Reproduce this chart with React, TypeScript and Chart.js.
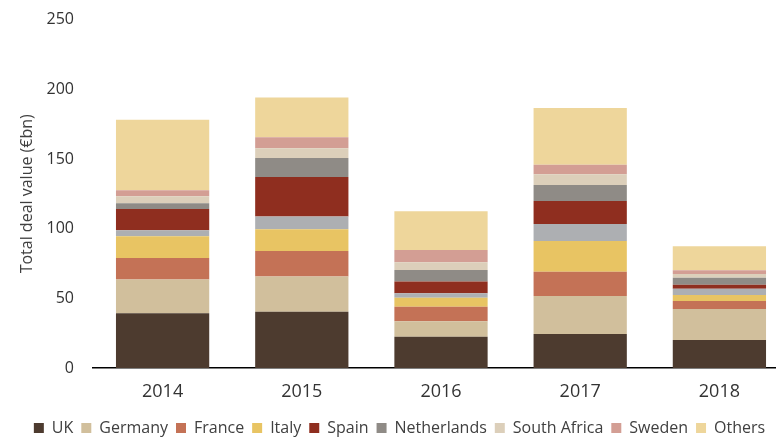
import React, { useEffect, useRef } from "react";
import { Chart, registerables } from "chart.js";

Chart.register(...registerables);

const years = ["2014", "2015", "2016", "2017", "2018"];
const uk = [39.2, 40.3, 22.4, 24.4, 20.1];
const germany = [24.3, 25.4, 11.1, 27.2, 22.2];
const france = [15.5, 18.3, 10.4, 17.4, 5.7];
const italy = [15.6, 15.6, 6.5, 22.2, 4.3];
const unlabelled = [4.3, 9.1, 3.3, 12.2, 4.5];
const spain = [15.2, 28.3, 8.4, 16.4, 2.9];
const netherlands = [4.1, 13.6, 8.3, 11.5, 5.0];
const southAfrica = [5.0, 7.0, 5.5, 7.7, 2.8];
const sweden = [4.3, 7.9, 8.8, 6.9, 2.7];
const others = [50.7, 28.6, 27.8, 40.6, 17.2];
const yTicks = [0, 50, 100, 150, 200, 250];

const series = [
  { label: "UK", data: uk, color: "#4d3b2f" },
  { label: "Germany", data: germany, color: "#d1bf9c" },
  { label: "France", data: france, color: "#c47256" },
  { label: "Italy", data: italy, color: "#e8c463" },
  { label: "", data: unlabelled, color: "#adafb2" },
  { label: "Spain", data: spain, color: "#8f2e1f" },
  { label: "Netherlands", data: netherlands, color: "#8f8b86" },
  { label: "South Africa", data: southAfrica, color: "#dccfba" },
  { label: "Sweden", data: sweden, color: "#d39e94" },
  { label: "Others", data: others, color: "#eed69b" },
];

export default function App() {
  const ref = useRef<HTMLCanvasElement | null>(null);
  useEffect(() => {
    if (!ref.current) return;
    const font = "'Open Sans', sans-serif";
    const chart = new Chart(ref.current, {
      type: "bar",
      data: {
        labels: years,
        datasets: series.map((s) => ({
          label: s.label,
          data: s.data,
          backgroundColor: s.color,
          borderWidth: 0,
          barPercentage: 0.67,
          categoryPercentage: 1,
        })),
      },
      options: {
        animation: false,
        responsive: false,
        layout: { padding: { left: 10, right: 21, top: 2, bottom: 0 } },
        plugins: {
          tooltip: { enabled: false },
          legend: {
            position: "bottom",
            labels: {
              boxWidth: 10,
              boxHeight: 10,
              padding: 8,
              color: "#404040",
              font: { family: font, size: 16 },
              filter: (item) => item.text !== "",
            },
          },
        },
        scales: {
          x: {
            stacked: true,
            grid: { display: false },
            border: { color: "#000", width: 1.5 },
            ticks: { color: "#333", font: { family: font, size: 18 }, padding: 5 },
            afterFit: (axis) => {
              axis.height = 44;
            },
          },
          y: {
            stacked: true,
            min: 0,
            max: 250,
            grid: { display: false },
            border: { display: false },
            afterBuildTicks: (axis) => {
              axis.ticks = yTicks.map((v) => ({ value: v }));
            },
            afterFit: (axis) => {
              axis.width = 83;
            },
            ticks: { color: "#333", font: { family: font, size: 16 }, padding: 11 },
            title: {
              display: true,
              text: "Total deal value (€bn)",
              color: "#404040",
              font: { family: font, size: 16 },
              padding: 8,
            },
          },
        },
      },
    });
    return () => chart.destroy();
  }, []);
  return (
    <div style={{ position: "fixed", left: 0, top: 0, width: 776, height: 437, overflow: "hidden", background: "#fff" }}>
      <canvas ref={ref} width={810} height={447} style={{ display: "block", marginTop: -1 }} />
    </div>
  );
}
